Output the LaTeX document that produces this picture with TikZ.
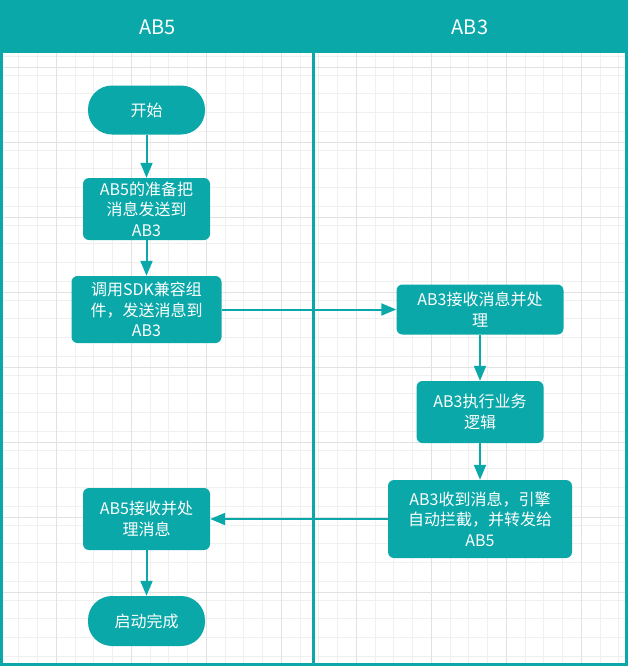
\documentclass[tikz,border=0pt]{standalone}
\usepackage{fontspec}
\newfontfamily\cjkfont{Noto Sans CJK SC}
\usepackage{tikz}
\usetikzlibrary{arrows.meta}
\definecolor{laneteal}{RGB}{11,168,169}
\definecolor{gridlight}{RGB}{240,240,240}
\definecolor{griddark}{RGB}{226,226,226}

\begin{document}
\begin{tikzpicture}[x=1pt, y=-1pt,
	every node/.style={font=\cjkfont\fontsize{16}{20.5}\selectfont, text=white, align=center},
	box/.style={fill=laneteal, rounded corners=6pt, inner sep=0pt},
	pill/.style={fill=laneteal, rounded corners=24pt, inner sep=0pt},
	flow/.style={draw=laneteal, line width=2pt, -{Triangle[length=15pt,width=12pt]}}]
				\useasboundingbox (0,0) rectangle (629,667);
				% grid behind the two lanes
				\begin{scope}
					\clip (1.5,53) rectangle (626.5,664.5);
					\draw[gridlight, line width=1pt, step=18.75pt] (0,0) grid (629,667);
					\foreach \i in {0,...,7}
						\draw[griddark, line width=1pt] (56.25+75*\i,53) -- (56.25+75*\i,667);
					\foreach \i in {0,...,7}
						\draw[griddark, line width=1pt] (0,67.5+75*\i) -- (629,67.5+75*\i);
				\end{scope}
				
				\fill[laneteal] (0,1.5) rectangle (628,53);
				\draw[laneteal, line width=3pt] (1.5,1.5) rectangle (626.5,664.5);
				\draw[laneteal, line width=3pt] (313.5,53) -- (313.5,664.5);
				
				\node[font=\cjkfont\fontsize{20}{24}\selectfont] (ab5head) at (157.5,27) {AB5};
				\node[font=\cjkfont\fontsize{20}{24}\selectfont] (ab3head) at (470,27) {AB3};
				
				\node[pill, minimum width=117pt, minimum height=49pt] (start) at (146.5,110) {开始};
				\node[box, minimum width=127pt, minimum height=62pt] (prep) at (146.5,209) {AB5的准备把\\消息发送到\\AB3};
				\node[box, minimum width=150pt, minimum height=67pt] (call) at (146.5,309.5) {调用SDK兼容组\\件，发送消息到\\AB3};
				\node[box, minimum width=167pt, minimum height=50pt] (recv) at (480,309.5) {AB3接收消息并处\\理};
				\node[box, minimum width=127pt, minimum height=62pt] (exec) at (480,412) {AB3执行业务\\逻辑};
				\node[box, minimum width=184pt, minimum height=78pt] (fwd) at (480,519) {AB3收到消息，引擎\\自动拦截，并转发给\\AB5};
				\node[box, minimum width=127pt, minimum height=62pt] (handle) at (146.5,519) {AB5接收并处\\理消息};
				\node[pill, minimum width=117pt, minimum height=50pt] (done) at (146.5,621) {启动完成};
				
				\draw[flow] (start) -- (prep);
				\draw[flow] (prep) -- (call);
				\draw[flow] (call) -- (recv);
				\draw[flow] (recv) -- (exec);
				\draw[flow] (exec) -- (fwd);
				\draw[flow] (fwd) -- (handle);
				\draw[flow] (handle) -- (done);
\end{tikzpicture}
\end{document}
